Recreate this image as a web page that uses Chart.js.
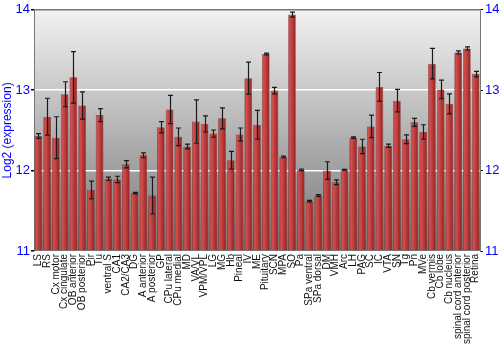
<!DOCTYPE html>
<html>
<head>
<meta charset="UTF-8">
<title>Log2 expression per region</title>
<script src="https://cdn.jsdelivr.net/npm/chart.js"></script>
<style>
  html, body { margin: 0; padding: 0; background: #ffffff; }
  .wrap { width: 500px; height: 350px; position: relative; }
</style>
</head>
<body>
<div class="wrap"><canvas id="barChart"></canvas></div>
<script>
// --- data ---
const regiones = ['LS', 'RS', 'Cx motor', 'Cx cingulate', 'OB anterior', 'OB posterior', 'Pir', 'Tu',
  'ventral S', 'CA1', 'CA2/CA3', 'DG', 'A anterior', 'A posterior', 'GP', 'CPu lateral', 'CPu medial',
  'MD', 'VA/VL', 'VPM/VPL', 'LG', 'MG', 'Hb', 'Pineal', 'IV', 'ME', 'Pituitary', 'SCN', 'MPA', 'SO',
  'Pa', 'SPa ventral', 'SPa dorsal', 'DM', 'VMH', 'Arc', 'LH', 'PAG', 'SC', 'IC', 'VTA', 'SN', 'Tg',
  'Pn', 'MVe', 'Cb vermis', 'Cb lobe', 'Cb nucleus', 'spinal cord anterior', 'spinal cord posterior', 'Retina'];

const expresion = [12.43, 12.67, 12.41, 12.95, 13.16, 12.81, 11.76, 12.69,
  11.90, 11.89, 12.08, 11.72, 12.19, 11.69, 12.54, 12.76, 12.42,
  12.30, 12.61, 12.58, 12.46, 12.65, 12.13, 12.45, 13.15, 12.57, 13.45, 12.995, 12.17, 13.94,
  12.01, 11.62, 11.69, 12.00, 11.855, 12.01, 12.41, 12.30, 12.55, 13.04, 12.31, 12.87, 12.39,
  12.60, 12.48, 13.33, 13.01, 12.83, 13.47, 13.52, 13.20];

const errores = [0.03, 0.23, 0.26, 0.155, 0.32, 0.17, 0.11, 0.08,
  0.02, 0.04, 0.045, 0.01, 0.03, 0.23, 0.07, 0.175, 0.11,
  0.03, 0.27, 0.10, 0.045, 0.13, 0.11, 0.08, 0.20, 0.18, 0.01, 0.04, 0.01, 0.03,
  0.01, 0.01, 0.01, 0.11, 0.03, 0.005, 0.01, 0.09, 0.14, 0.18, 0.02, 0.14, 0.055,
  0.05, 0.09, 0.19, 0.115, 0.125, 0.02, 0.02, 0.035];

const ticksY = [11, 12, 13, 14];

const azul = '#0000ff';

// fondo degradado gris dentro del area del grafico
const fondoPlugin = {
  id: 'fondo',
  beforeDraw(chart) {
    const { ctx, chartArea: a } = chart;
    const g = ctx.createLinearGradient(0, a.top, 0, a.bottom);
    g.addColorStop(0, '#f2f2f2');
    g.addColorStop(1, '#767676');
    ctx.save();
    ctx.fillStyle = g;
    ctx.fillRect(a.left, a.top, a.right - a.left, a.bottom - a.top);
    ctx.restore();
  }
};

// barras de error
const erroresPlugin = {
  id: 'barrasError',
  afterDatasetsDraw(chart) {
    const { ctx } = chart;
    const y = chart.scales.y;
    const meta = chart.getDatasetMeta(0);
    ctx.save();
    ctx.strokeStyle = '#1a1a1a';
    ctx.lineWidth = 1.2;
    meta.data.forEach((bar, i) => {
      const v = expresion[i], e = errores[i];
      const top = y.getPixelForValue(v + e);
      const bot = y.getPixelForValue(v - e);
      const x = Math.round(bar.x) + 0.5;
      ctx.beginPath();
      ctx.moveTo(x, top); ctx.lineTo(x, bot);
      ctx.moveTo(x - 2.5, top); ctx.lineTo(x + 2.5, top);
      ctx.moveTo(x - 2.5, bot); ctx.lineTo(x + 2.5, bot);
      ctx.stroke();
    });
    ctx.restore();
  }
};

function colorBarra(c) {
  const chart = c.chart;
  const sx = chart.scales.x;
  if (!sx || !chart.chartArea || c.dataIndex === undefined) return '#b83434';
  const x = sx.getPixelForValue(c.dataIndex);
  const w = (sx.width / regiones.length) * 0.9;
  const g = chart.ctx.createLinearGradient(x - w / 2, 0, x + w / 2, 0);
  g.addColorStop(0, '#b03434');
  g.addColorStop(0.25, '#d05050');
  g.addColorStop(0.6, '#b83838');
  g.addColorStop(1, '#8c2222');
  return g;
}

const ctx = document.getElementById('barChart').getContext('2d');
new Chart(ctx, {
  type: 'bar',
  data: {
    labels: regiones,
    datasets: [{
      data: expresion,
      base: 11,
      backgroundColor: colorBarra,
      borderColor: 'rgba(110,20,20,0.8)',
      borderWidth: 0.6,
      barPercentage: 0.88,
      categoryPercentage: 1.0
    }]
  },
  options: {
    responsive: true,
    maintainAspectRatio: false,
    animation: false,
    layout: { padding: { top: 9, left: 0, right: 0, bottom: 0 } },
    plugins: {
      legend: { display: false },
      tooltip: { enabled: false }
    },
    scales: {
      x: {
        grid: { display: false, drawTicks: false },
        border: { display: false },
        ticks: {
          autoSkip: false,
          minRotation: 90,
          maxRotation: 90,
          padding: 3,
          color: '#111',
          font: { family: "'Liberation Sans', Arial, sans-serif", size: 10 }
        },
        afterFit(s) { s.height = 99; }
      },
      y: {
        position: 'left',
        min: 11,
        max: 14,
        afterBuildTicks(s) { s.ticks = ticksY.map(v => ({ value: v })); },
        grid: {
          color: c => (c.tick && (c.tick.value === 12 || c.tick.value === 13)) ? '#ffffff' : (c.tick && c.tick.value === 14 ? '#777777' : 'rgba(0,0,0,0)'),
          lineWidth: 1.5,
          tickColor: '#000000',
          tickLength: 3,
          drawOnChartArea: true
        },
        border: { display: true, color: '#777777', width: 1 },
        ticks: {
          color: azul,
          padding: 1,
          font: { family: "'Liberation Sans', Arial, sans-serif", size: 13 }
        },
        title: {
          display: true,
          text: 'Log2 (expression)',
          color: azul,
          padding: 0,
          font: { family: "'Liberation Sans', Arial, sans-serif", size: 12 }
        },
        afterFit(s) { s.width = 34; }
      },
      y2: {
        position: 'right',
        min: 11,
        max: 14,
        afterBuildTicks(s) { s.ticks = ticksY.map(v => ({ value: v })); },
        grid: { drawOnChartArea: false, tickColor: '#000000', tickLength: 3 },
        border: { display: true, color: '#777777', width: 1 },
        ticks: {
          color: azul,
          padding: 2,
          font: { family: "'Liberation Sans', Arial, sans-serif", size: 13 }
        },
        afterFit(s) { s.width = 20; }
      }
    }
  },
  plugins: [fondoPlugin, erroresPlugin]
});
</script>
</body>
</html>
